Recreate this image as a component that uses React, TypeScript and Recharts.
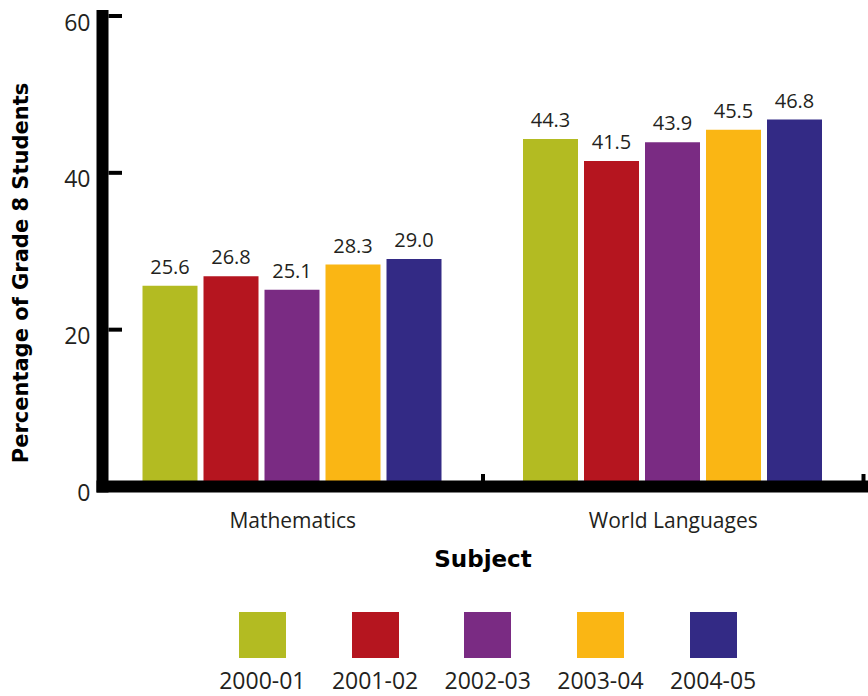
import { BarChart, Bar, XAxis, YAxis, LabelList, Legend } from 'recharts';

// survey results, percent of grade 8 students taking each subject
const subjects = ['Mathematics', 'World Languages'];
const years = ['2000-01', '2001-02', '2002-03', '2003-04', '2004-05'];
const math = [25.6, 26.8, 25.1, 28.3, 29.0];
const languages = [44.3, 41.5, 43.9, 45.5, 46.8];
const yTicks = [0, 20, 40, 60];
const colors = ['#b3bb22', '#b5151f', '#7a2b83', '#fab614', '#332a85'];

const data = subjects.map((s, i) => {
  const vals = i === 0 ? math : languages;
  const row: Record<string, string | number> = { subject: s };
  years.forEach((y, j) => { row[y] = vals[j]; });
  return row;
});

const sans = '"Open Sans", sans-serif';
const bold = '"DejaVu Sans", sans-serif';

function YTick(props: any) {
  const { x, y, payload } = props;
  return (
    <g>
      <line x1={x + 18} x2={x + 31.5} y1={y} y2={y} stroke="#000" strokeWidth={4} />
      <text x={x} y={y} dy={14.5} textAnchor="end" fontFamily={sans} fontSize={23} fill="#231f20">
        {payload.value}
      </text>
    </g>
  );
}

// category label plus the small tick at the right edge of each group
function XTick(props: any) {
  const { x, y, payload, width, visibleTicksCount } = props;
  const half = width / (visibleTicksCount || subjects.length) / 2;
  const axisY = y - 26.5;
  return (
    <g>
      <line x1={x + half} x2={x + half} y1={axisY - 12.5} y2={axisY} stroke="#000" strokeWidth={4} />
      <text x={x} y={y} dy={15} textAnchor="middle" fontFamily={sans} fontSize={21} fill="#231f20">
        {payload.value}
      </text>
    </g>
  );
}

function LegendBox() {
  return (
    <div style={{ display: 'flex' }}>
      {years.map((y, i) => (
        <div key={y} style={{ width: 112.7, textAlign: 'center' }}>
          <div style={{ width: 47, height: 46, background: colors[i], margin: '0 auto' }} />
          <div style={{ marginTop: 11, fontFamily: sans, fontSize: 23, lineHeight: '22px', color: '#231f20', whiteSpace: 'nowrap' }}>{y}</div>
        </div>
      ))}
    </div>
  );
}

export default function App() {
  return (
    <div style={{ position: 'absolute', left: 0, top: 0, background: '#fff' }}>
      <BarChart
        width={868}
        height={696}
        data={data}
        margin={{ top: 16, right: 4.5, left: 62.5, bottom: 119.5 }}
        barCategoryGap={40}
        barGap={6}
      >
        {years.map((y, i) => (
          <Bar key={y} dataKey={y} fill={colors[i]} isAnimationActive={false}>
            <LabelList
              dataKey={y}
              position="top"
              offset={12}
              formatter={(v: any) => Number(v).toFixed(1)}
              style={{ fontFamily: sans, fontSize: 20, fill: '#231f20' }}
            />
          </Bar>
        ))}
        <XAxis
          dataKey="subject"
          height={90}
          tickLine={false}
          tickSize={0}
          tickMargin={26.5}
          axisLine={{ stroke: '#000', strokeWidth: 12, strokeLinecap: 'square' }}
          tick={<XTick />}
          label={{
            value: 'Subject',
            content: (p: any) => (
              <text
                x={p.viewBox.x + p.viewBox.width / 2}
                y={567}
                textAnchor="middle"
                fontFamily={bold}
                fontWeight="bold"
                fontSize={23}
                fill="#000"
              >
                Subject
              </text>
            ),
          }}
        />
        <YAxis
          width={40}
          domain={[0, 60]}
          ticks={yTicks}
          tickLine={false}
          tickSize={0}
          tickMargin={12}
          axisLine={{ stroke: '#000', strokeWidth: 12, strokeLinecap: 'square' }}
          tick={<YTick />}
          label={{
            value: 'Percentage of Grade 8 Students',
            content: () => (
              <text
                x={28}
                y={273}
                transform="rotate(-90, 28, 273)"
                textAnchor="middle"
                fontFamily={bold}
                fontWeight="bold"
                fontSize={21}
                fill="#000"
              >
                Percentage of Grade 8 Students
              </text>
            ),
          }}
        />
        <Legend
          layout="horizontal"
          verticalAlign="middle"
          align="center"
          content={<LegendBox />}
          wrapperStyle={{ left: 206, top: 612, width: 564 }}
        />
      </BarChart>
    </div>
  );
}
